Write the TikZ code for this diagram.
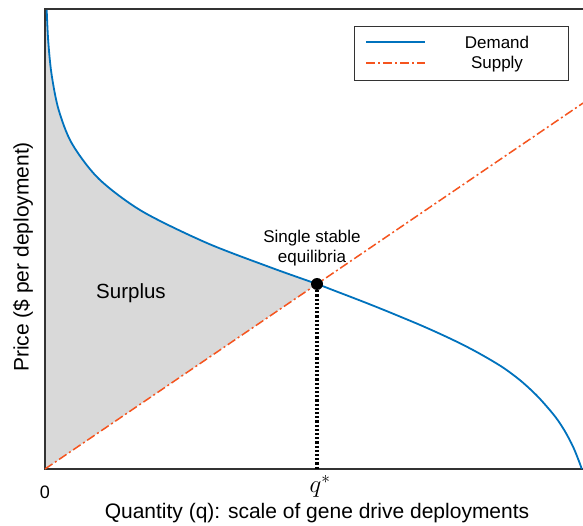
\documentclass[tikz,border=0pt]{standalone}
\usepackage{fontspec}
\setmainfont{Liberation Sans}
\definecolor{demandblue}{HTML}{0072BD}
\definecolor{supplyorange}{HTML}{F5541E}
\definecolor{surplusgray}{HTML}{D9D9D9}
\begin{document}
\begin{tikzpicture}[x=1pt,y=-1pt,
  demand/.style={draw=demandblue, line width=1.8pt},
  supply/.style={draw=supplyorange, line width=1.5pt, dash pattern=on 9pt off 3pt on 2pt off 3pt},
  axisline/.style={draw=black!80, line width=1.1pt},
  biglbl/.style={inner sep=0pt, font=\fontsize{21}{25}\selectfont},
  smalllbl/.style={inner sep=0pt, font=\fontsize{17}{20}\selectfont}]
\useasboundingbox (0,0) rectangle (583,526);
\fill[white] (0,0) rectangle (583,526);
\coordinate (O) at (45,469);
\coordinate (TL) at (45,9);
\coordinate (TR) at (583,9);
\coordinate (BR) at (583,469);
\coordinate (supend) at (583,103.1);
\coordinate (qs) at (317,469);
% surplus area
\fill[surplusgray] (O) -- (45,10) -- plot[smooth] coordinates {(46.7,10) (48.2,40.8) (51.5,73.9) (58.5,109.3) (71.9,143.5) (98.8,178.8) (141.8,211.1) (206.4,242.8) (271.0,267.6) (317,284)} -- cycle;
% axes
\draw[axisline] (TR) -- (TL) -- (O) -- (BR);
% supply
\draw[supply] (O) -- (supend);
% demand
\draw[demand] plot[smooth] coordinates {(46.7,10) (48.2,40.8) (51.5,73.9) (58.5,109.3) (71.9,143.5) (98.8,178.8) (141.8,211.1) (206.4,242.8) (271.0,267.6) (317,284) (334,290.5) (351,297) (368,303.6) (385,310.4) (402,317.4) (419,324.5) (436,332) (453,339.9) (470,348.4) (487,357.8) (504,368.2) (521,381) (538,396.8) (555,416.4) (565,431.4) (573,446.6) (578.5,460) (581.8,469)};
% equilibrium
\node[circle, fill=black, inner sep=0pt, minimum size=12pt] (eq) at (317,284) {};
\draw[black, line width=3.5pt, dash pattern=on 2.2pt off 2pt] (eq) -- (qs);
% labels
\node[biglbl, rotate=90] (ylab) at (23,257) {Price (\$ per deployment)};
\node[biglbl] (xlab) at (317,513) {Quantity (q): scale of gene drive deployments};
\node[inner sep=0pt, font=\fontsize{18}{20}\selectfont] (zero) at (45,492) {0};
\node[inner sep=0pt, font=\fontsize{26}{28}\selectfont] (qlab) at (320,486) {$q^*$};
\node[inner sep=0pt, font=\fontsize{20.5}{24}\selectfont] (surplus) at (131,293) {Surplus};
\node[smalllbl, align=center] (eqlab) at (312,248) {Single stable\\equilibria};
% legend
\node[draw=black!80, line width=0.8pt, minimum width=214pt, minimum height=54pt, inner sep=0pt] (legend) at (461,53) {};
\coordinate (d1) at (366,42); \coordinate (d2) at (425,42);
\coordinate (s1) at (366,63); \coordinate (s2) at (425,63);
\draw[demand] (d1) -- (d2);
\draw[supply] (s1) -- (s2);
\node[smalllbl] (dlab) at (497,42) {Demand};
\node[smalllbl] (slab) at (497,64) {Supply};
\end{tikzpicture}
\end{document}
